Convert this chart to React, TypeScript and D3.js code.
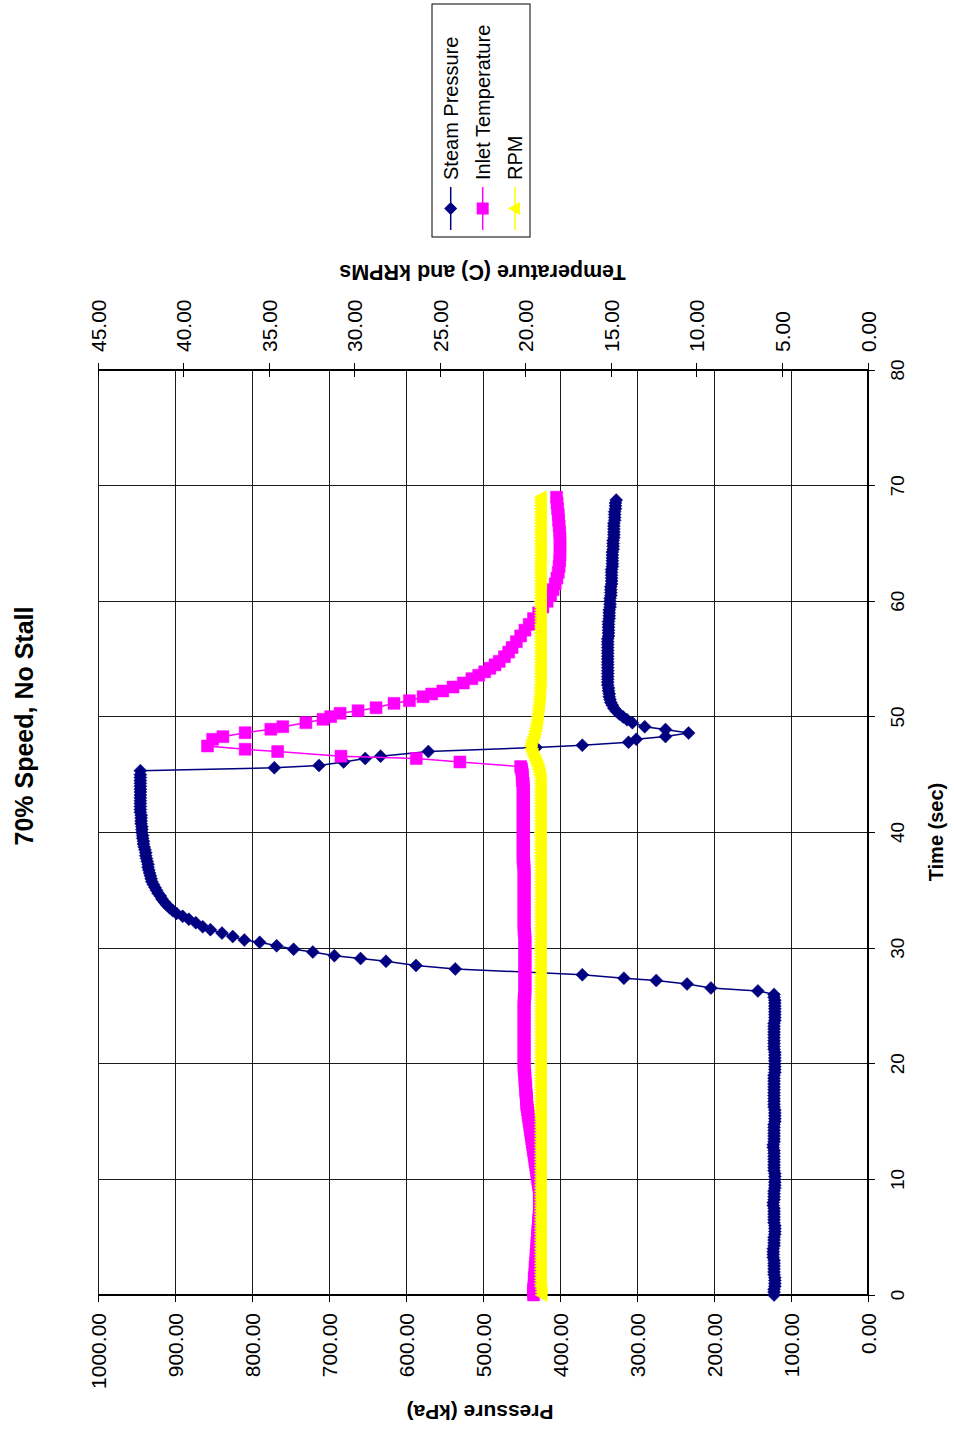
import React from "react";
import * as d3 from "d3";

// ---------- DATA ----------
const SAMPLE_STEP = 0.25; // seconds between samples in the dense (regularly sampled) stretches

const timeTicks = [0, 10, 20, 30, 40, 50, 60, 70, 80];
const pressureTicks = [0, 100, 200, 300, 400, 500, 600, 700, 800, 900, 1000];
const tempTicks = [0, 5, 10, 15, 20, 25, 30, 35, 40, 45];

// Steam Pressure (kPa)
const pressureHold = [
  122, 122, 122, 121, 121, 121, 121, 122, 122, 122, 122, 122, 122, 123, 123, 123, 123, 122, 122, 122,
  122, 121, 121, 121, 121, 122, 122, 122, 122, 122, 122, 123, 123, 122, 122, 122, 122, 121, 121, 121,
  121, 121, 121, 122, 122, 122, 122, 122, 122, 122, 122, 123, 123, 122, 122, 122, 122, 122, 122, 122,
  121, 121, 121, 121, 121, 122, 122, 122, 122, 122, 122, 122, 122, 122, 122, 122, 122, 121, 121, 121,
  121, 121, 121, 121, 121, 122, 122, 122, 122, 122, 122, 122, 122, 122, 122, 121, 121, 121, 121, 121,
  121, 121, 121, 122, 122,
]; // t = 0 .. 26
const pressureRise: [number, number][] = [
  [26.3, 143], [26.55, 204], [26.9, 235], [27.2, 275], [27.4, 317], [27.7, 371],
  [28.2, 536], [28.5, 587], [28.86, 626], [29.1, 659], [29.35, 693], [29.66, 721],
  [29.9, 746], [30.2, 768], [30.5, 790], [30.7, 810], [31.0, 825], [31.3, 839],
  [31.6, 854], [31.85, 864], [32.2, 873],
];
const pressurePeak = [
  882, 890, 898, 903, 907, 911, 914, 917, 919, 922,
  924, 926, 928, 930, 931, 932, 933, 934, 935, 935,
  936, 937, 938, 938, 939, 940, 941, 941, 942, 942,
  943, 943, 943, 944, 944, 944, 944, 945, 945, 945,
  945, 945, 945, 945, 945, 945, 945, 945, 945, 945,
  945,
]; // t = 32.5 .. 45
const pressureDrop: [number, number][] = [
  [45.35, 945], [45.6, 771], [45.8, 713], [46.1, 681], [46.4, 653], [46.6, 633],
  [47.0, 571], [47.35, 431], [47.55, 371], [47.8, 311], [48.06, 301], [48.3, 263],
  [48.6, 233], [48.9, 263], [49.15, 290], [49.5, 306], [49.75, 313],
];
const pressureRecovery = [
  318, 323, 327, 330, 332, 334, 335, 336, 336, 337, 337, 338,
  338, 338, 338, 338, 338, 338, 338, 338, 338, 338, 338, 338, 338, 338, 338, 338,
  337, 337, 337, 337, 337, 337,
  336, 336, 336, 336,
  335, 335, 335, 335,
  334, 334, 334, 334,
  333, 333, 333, 333, 333, 333,
  332, 332, 332, 332, 332, 332,
  331, 331, 331, 331,
  330, 330, 330, 330, 330, 330,
  329, 329, 329, 329,
  328, 328, 328,
]; // t = 50 .. 68.5
const pressureTail: [number, number][] = [[68.75, 327]];

// Inlet Temperature (C)
const tempHold = [
  19.55, 19.55, 19.55, 19.52, 19.5, 19.5, 19.5, 19.47, 19.45, 19.45, 19.45, 19.42, 19.4, 19.4, 19.4, 19.37, 19.35, 19.35, 19.35, 19.32,
  19.3, 19.3, 19.3, 19.27, 19.25, 19.25, 19.25, 19.22, 19.2, 19.2, 19.2, 19.2, 19.2, 19.2, 19.2, 19.2, 19.2, 19.2, 19.25, 19.27,
  19.3, 19.32, 19.35, 19.37, 19.4, 19.42, 19.45, 19.47, 19.5, 19.52, 19.55, 19.57, 19.6, 19.62, 19.65, 19.67, 19.7, 19.72, 19.75, 19.77,
  19.8, 19.82, 19.85, 19.87, 19.9, 19.92, 19.95, 19.95, 19.95, 19.97, 20.0, 20.0, 20.0, 20.02, 20.05, 20.05, 20.05, 20.07, 20.1, 20.1,
  20.1, 20.1, 20.1, 20.1, 20.1, 20.1, 20.1, 20.1, 20.1, 20.1, 20.1, 20.1, 20.1, 20.1, 20.1, 20.1, 20.1, 20.1, 20.1, 20.1,
  20.1, 20.1, 20.1, 20.07, 20.05, 20.05, 20.05, 20.05, 20.05, 20.05, 20.05, 20.05, 20.05, 20.05, 20.05, 20.05, 20.05, 20.05, 20.05, 20.05,
  20.05, 20.05, 20.05, 20.05, 20.05, 20.07, 20.1, 20.1, 20.1, 20.1, 20.1, 20.1, 20.1, 20.1, 20.1, 20.1, 20.1, 20.1, 20.1, 20.1,
  20.1, 20.1, 20.1, 20.1, 20.1, 20.1, 20.1, 20.1, 20.1, 20.12, 20.15, 20.15, 20.15, 20.15, 20.15, 20.15, 20.15, 20.15, 20.15, 20.15,
  20.15, 20.15, 20.15, 20.15, 20.15, 20.15, 20.15, 20.15, 20.15, 20.15, 20.15, 20.15, 20.15, 20.15, 20.15, 20.15, 20.15, 20.15, 20.2, 20.2,
  20.2, 20.22, 20.25,
]; // t = 0 .. 45.5
const tempSpike: [number, number][] = [
  [45.7, 20.3], [46.1, 23.85], [46.4, 26.4], [46.6, 30.8], [47.0, 34.5], [47.2, 36.4],
  [47.48, 38.6], [48.06, 38.3], [48.29, 37.7], [48.63, 36.4], [48.93, 34.9], [49.15, 34.2],
  [49.5, 32.85], [49.79, 31.85], [50.02, 31.4], [50.31, 30.85], [50.53, 29.8], [50.79, 28.75],
  [51.17, 27.7], [51.4, 26.8], [51.74, 26.0], [51.98, 25.5], [52.24, 24.85], [52.58, 24.25],
  [52.93, 23.65], [53.3, 23.15], [53.6, 22.75], [53.9, 22.4], [54.2, 22.1], [54.5, 21.8],
  [54.8, 21.55], [55.2, 21.25], [55.6, 21.0], [56.0, 20.8], [56.5, 20.55], [57.0, 20.3],
  [57.5, 20.05], [58.0, 19.8], [58.5, 19.55], [59.0, 19.25], [59.5, 19.0], [60.0, 18.75],
  [60.5, 18.55], [61.0, 18.4], [61.5, 18.28], [62.0, 18.18], [62.5, 18.1], [63.0, 18.05],
  [63.5, 18.02], [64.0, 18.0], [64.5, 18.0], [65.0, 18.0], [65.5, 18.0], [66.0, 18.02],
  [66.5, 18.05], [67.0, 18.08], [67.5, 18.1], [68.0, 18.14], [68.5, 18.17], [69.0, 18.2],
];

// RPM (kRPM), t = 0 .. 69
const rpmValues = [
  19.05, 19.05, 19.05, 19.1, 19.1, 19.1, 19.1, 19.1, 19.1, 19.1, 19.1, 19.1, 19.1, 19.1, 19.1, 19.1, 19.1, 19.1, 19.1, 19.1,
  19.1, 19.1, 19.1, 19.1, 19.1, 19.1, 19.1, 19.1, 19.1, 19.1, 19.1, 19.1, 19.1, 19.1, 19.1, 19.1, 19.1, 19.1, 19.1, 19.1,
  19.1, 19.1, 19.1, 19.1, 19.1, 19.1, 19.1, 19.1, 19.1, 19.1, 19.1, 19.1, 19.1, 19.1, 19.1, 19.1, 19.1, 19.1, 19.1, 19.1,
  19.1, 19.1, 19.1, 19.1, 19.1, 19.1, 19.1, 19.1, 19.1, 19.1, 19.1, 19.1, 19.1, 19.1, 19.1, 19.1, 19.1, 19.1, 19.1, 19.1,
  19.1, 19.1, 19.1, 19.1, 19.1, 19.1, 19.1, 19.1, 19.1, 19.1, 19.1, 19.1, 19.1, 19.1, 19.1, 19.1, 19.1, 19.1, 19.1, 19.1,
  19.1, 19.1, 19.1, 19.1, 19.1, 19.1, 19.1, 19.1, 19.1, 19.1, 19.1, 19.1, 19.1, 19.1, 19.1, 19.1, 19.1, 19.1, 19.1, 19.1,
  19.1, 19.1, 19.1, 19.1, 19.1, 19.1, 19.1, 19.1, 19.1, 19.1, 19.1, 19.1, 19.1, 19.1, 19.1, 19.1, 19.1, 19.1, 19.1, 19.1,
  19.1, 19.1, 19.1, 19.1, 19.1, 19.1, 19.1, 19.1, 19.1, 19.1, 19.1, 19.1, 19.1, 19.1, 19.1, 19.1, 19.1, 19.1, 19.1, 19.1,
  19.1, 19.1, 19.1, 19.1, 19.1, 19.1, 19.1, 19.1, 19.1, 19.1, 19.1, 19.1, 19.1, 19.1, 19.1, 19.1, 19.1, 19.1, 19.1, 19.1,
  19.15, 19.18, 19.22, 19.28, 19.35, 19.42, 19.5, 19.56, 19.62, 19.66, 19.68, 19.65, 19.6, 19.54, 19.48, 19.44,
  19.4, 19.36, 19.33, 19.3, 19.28, 19.26, 19.24, 19.22, 19.2, 19.18, 19.17, 19.15, 19.14, 19.13, 19.12, 19.11,
  19.1, 19.1, 19.1, 19.1, 19.1, 19.1, 19.1, 19.1, 19.1, 19.1, 19.1, 19.1, 19.1, 19.1, 19.1, 19.1, 19.1, 19.1, 19.1, 19.1,
  19.1, 19.1, 19.1, 19.1, 19.1, 19.1, 19.1, 19.1, 19.1, 19.1, 19.1, 19.1, 19.1, 19.1, 19.1, 19.1, 19.1, 19.1, 19.1, 19.1,
  19.1, 19.1, 19.1, 19.1, 19.1, 19.1, 19.1, 19.1, 19.1, 19.1, 19.1, 19.1, 19.1, 19.1, 19.1, 19.1, 19.1, 19.1, 19.1, 19.1,
  19.1, 19.1, 19.1, 19.1, 19.1,
];

const seriesNames = ["Steam Pressure", "Inlet Temperature", "RPM"];
const seriesColors = ["#000080", "#FF00FF", "#FFFF00"];

const sampled = (start: number, values: number[]): [number, number][] =>
  values.map((v, i) => [start + i * SAMPLE_STEP, v] as [number, number]);

const pressureSeries: [number, number][] = [
  ...sampled(0, pressureHold),
  ...pressureRise,
  ...sampled(32.5, pressurePeak),
  ...pressureDrop,
  ...sampled(50, pressureRecovery),
  ...pressureTail,
];
const tempSeries: [number, number][] = [...sampled(0, tempHold), ...tempSpike];
const rpmSeries: [number, number][] = sampled(0, rpmValues);

// ---------- CHART ----------
const FONT = "'Liberation Sans', Arial, Helvetica, sans-serif";

const diamondPath = "M0,-6.5L6.5,0L0,6.5L-6.5,0Z";
const squarePath = "M-6,-6L6,-6L6,6L-6,6Z";
const trianglePath = "M0,-7L6.5,5L-6.5,5Z";
const markerPaths = [diamondPath, squarePath, trianglePath];

export default function App() {
  const W = 925; // time axis length (chart drawn in its own frame, then rotated)
  const H = 770; // value axis length
  const x = d3.scaleLinear().domain([0, 80]).range([0, W]);
  const yP = d3.scaleLinear().domain([0, 1000]).range([H, 0]);
  const yT = d3.scaleLinear().domain([0, 45]).range([H, 0]);

  const lineP = d3.line<[number, number]>().x((d) => x(d[0])).y((d) => yP(d[1]));
  const lineT = d3.line<[number, number]>().x((d) => x(d[0])).y((d) => yT(d[1]));

  const series = [
    { data: pressureSeries, y: yP, line: lineP },
    { data: tempSeries, y: yT, line: lineT },
    { data: rpmSeries, y: yT, line: lineT },
  ];

  const legendRows = [352.7, 384.7, 417];

  return (
    <svg
      width={954}
      height={1435}
      style={{ position: "absolute", left: 0, top: 0, background: "#fff" }}
      fontFamily={FONT}
    >
      <rect x={0} y={0} width={954} height={1435} fill="#fff" />
      <g transform="translate(98,1295) rotate(-90)">
        {/* gridlines */}
        <g stroke="#1a1a1a" strokeWidth={1} shapeRendering="crispEdges">
          {pressureTicks.map((p) => (
            <line key={"gp" + p} x1={0} x2={W} y1={yP(p)} y2={yP(p)} />
          ))}
          {timeTicks.map((t) => (
            <line key={"gt" + t} x1={x(t)} x2={x(t)} y1={0} y2={H} />
          ))}
        </g>
        {/* axes */}
        <g stroke="#000" strokeWidth={1.5} shapeRendering="crispEdges">
          <line x1={0} x2={0} y1={0} y2={H} />
          <line x1={0} x2={W} y1={H} y2={H} />
          <line x1={W} x2={W} y1={0} y2={H} />
          {pressureTicks.map((p) => (
            <line key={"tp" + p} x1={-7} x2={0} y1={yP(p)} y2={yP(p)} strokeWidth={1} />
          ))}
          {timeTicks.map((t) => (
            <line key={"tt" + t} x1={x(t)} x2={x(t)} y1={H} y2={H + 7} strokeWidth={1} />
          ))}
          {tempTicks.map((v) => (
            <line key={"tT" + v} x1={W - 7} x2={W + 7} y1={yT(v)} y2={yT(v)} strokeWidth={1} />
          ))}
        </g>

        {/* series */}
        {series.map((s, i) => (
          <g key={"s" + i}>
            <path d={s.line(s.data) || ""} fill="none" stroke={seriesColors[i]} strokeWidth={1.5} />
            {s.data.map((d, j) => (
              <path
                key={j}
                d={markerPaths[i]}
                transform={`translate(${x(d[0])},${s.y(d[1])})`}
                fill={seriesColors[i]}
                stroke={seriesColors[i]}
                strokeWidth={0.5}
              />
            ))}
          </g>
        ))}

        {/* tick labels */}
        <g fontSize={21} fill="#000">
          {pressureTicks.map((p) => (
            <text key={"lp" + p} x={-18} y={yP(p)} dy="0.36em" textAnchor="end">
              {p.toFixed(2)}
            </text>
          ))}
          {tempTicks.map((v) => (
            <text key={"lT" + v} x={W + 18} y={yT(v)} dy="0.36em" textAnchor="start">
              {v.toFixed(2)}
            </text>
          ))}
        </g>
        <g fontSize={19} fill="#000">
          {timeTicks.map((t) => (
            <text key={"lt" + t} x={x(t)} y={H + 36} textAnchor="middle">
              {t}
            </text>
          ))}
        </g>

        {/* axis titles */}
        <text x={463} y={H + 75} textAnchor="middle" fontSize={20} fontWeight="bold">
          Time (sec)
        </text>
        <text
          transform={`translate(-110,382) rotate(-90)`}
          textAnchor="middle"
          fontSize={21}
          fontWeight="bold"
        >
          Pressure (kPa)
        </text>
        <text
          transform={`translate(1030,384.5) rotate(-90)`}
          textAnchor="middle"
          fontSize={21.5}
          fontWeight="bold"
        >
          Temperature (C) and kRPMs
        </text>

        {/* title */}
        <text x={569} y={-65} textAnchor="middle" fontSize={25} fontWeight="bold">
          70% Speed, No Stall
        </text>

        {/* legend */}
        <rect x={1058} y={334} width={233} height={98} fill="#fff" stroke="#000" strokeWidth={1} />
        {seriesNames.map((name, i) => (
          <g key={"lg" + i}>
            <line x1={1065} x2={1108} y1={legendRows[i]} y2={legendRows[i]} stroke={seriesColors[i]} strokeWidth={1.5} />
            <path d={markerPaths[i]} transform={`translate(1086.5,${legendRows[i]})`} fill={seriesColors[i]} />
            <text x={1115} y={legendRows[i]} dy="0.36em" fontSize={20}>
              {name}
            </text>
          </g>
        ))}
      </g>
    </svg>
  );
}
